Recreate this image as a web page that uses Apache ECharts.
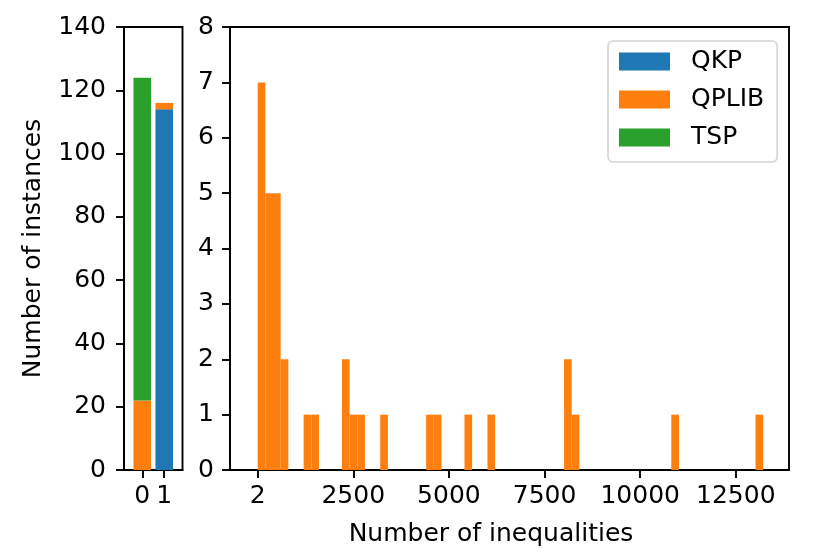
<!DOCTYPE html>
<html>
<head>
<meta charset="utf-8">
<script src="https://cdn.jsdelivr.net/npm/echarts@6/dist/echarts.min.js"></script>
<style>
html,body{margin:0;padding:0;background:#fff;}
#chart{width:830px;height:554px;}
</style>
</head>
<body>
<div id="chart"></div>
<script>
// ---- data ----
const groupPositions = [0, 1];
const qkpCounts = [0, 114];
const qplibCounts = [22, 2];
const tspCounts = [102, 0];

const binWidth = 200.2;
const binStarts = [2, 202, 402, 603, 1203, 1403, 2204, 2404, 2605, 3205, 4406, 4606, 5407, 6008, 8010, 8210, 10813, 13015];
const binCounts = [7, 5, 5, 2, 1, 1, 2, 1, 1, 1, 1, 1, 1, 1, 2, 1, 1, 1];

const leftXTicks = [0, 1];
const rightXTicks = [2, 2500, 5000, 7500, 10000, 12500];

const COLORS = { QKP: '#1f77b4', QPLIB: '#ff7f0e', TSP: '#2ca02c' };
const FONT = 'DejaVu Sans';
const FS = 25;
const LW = 1.9;

// build stacked rows [x, bottom, top]
const stackOrder = [['QKP', qkpCounts], ['QPLIB', qplibCounts], ['TSP', tspCounts]];
const base = groupPositions.map(() => 0);
const stackedData = {};
stackOrder.forEach(([name, arr]) => {
  stackedData[name] = groupPositions.map((x, i) => {
    const b = base[i];
    base[i] += arr[i];
    return [x, b, b + arr[i]];
  }).filter(r => r[2] > r[1]);
});

const histData = binStarts.map((s, i) => [s, s + binWidth, binCounts[i]]);

function stackRender(params, api) {
  const x = api.value(0), y0 = api.value(1), y1 = api.value(2);
  const p0 = api.coord([x - 0.4, y1]);
  const p1 = api.coord([x + 0.4, y0]);
  return { type: 'rect', shape: { x: p0[0], y: p0[1], width: p1[0] - p0[0], height: p1[1] - p0[1] },
    style: { fill: api.visual('color') } };
}
function histRender(params, api) {
  const x0 = api.value(0), x1 = api.value(1), y = api.value(2);
  const p0 = api.coord([x0, y]);
  const p1 = api.coord([x1, 0]);
  return { type: 'rect', shape: { x: p0[0], y: p0[1], width: p1[0] - p0[0], height: p1[1] - p0[1] },
    style: { fill: api.visual('color') } };
}

const axisCommon = {
  axisLine: { show: true, onZero: false, lineStyle: { color: '#000', width: LW } },
  axisTick: { show: true, length: 8, lineStyle: { color: '#000', width: LW } },
  splitLine: { show: false },
  axisLabel: { color: '#000', fontFamily: FONT, fontSize: FS }
};

const chart = echarts.init(document.getElementById('chart'), null, { renderer: 'canvas' });
chart.setOption({
  animation: false,
  backgroundColor: '#fff',
  textStyle: { fontFamily: FONT },
  grid: [
    { left: 124, top: 27, width: 58.5, height: 443, show: true, borderColor: '#000', borderWidth: LW, containLabel: false },
    { left: 230, top: 27, width: 559, height: 443, show: true, borderColor: '#000', borderWidth: LW, containLabel: false }
  ],
  xAxis: [
    Object.assign({}, axisCommon, {
      gridIndex: 0, type: 'value', min: -0.83, max: 1.83,
      axisTick: Object.assign({}, axisCommon.axisTick, { customValues: leftXTicks }),
      axisLabel: Object.assign({}, axisCommon.axisLabel, { customValues: leftXTicks, margin: 14, formatter: v => String(v) })
    }),
    Object.assign({}, axisCommon, {
      gridIndex: 1, type: 'value', min: -722, max: 13890,
      name: 'Number of inequalities', nameLocation: 'middle', nameGap: 52,
      nameTextStyle: { color: '#000', fontFamily: FONT, fontSize: FS, padding: [0, 37, 0, 0] },
      axisTick: Object.assign({}, axisCommon.axisTick, { customValues: rightXTicks }),
      axisLabel: Object.assign({}, axisCommon.axisLabel, { customValues: rightXTicks, margin: 14, formatter: v => String(v) })
    })
  ],
  yAxis: [
    Object.assign({}, axisCommon, {
      gridIndex: 0, type: 'value', min: 0, max: 140, interval: 20,
      name: 'Number of instances', nameLocation: 'middle', nameGap: 78, nameRotate: 90,
      nameTextStyle: { color: '#000', fontFamily: FONT, fontSize: FS },
      axisLabel: Object.assign({}, axisCommon.axisLabel, { margin: 18 })
    }),
    Object.assign({}, axisCommon, {
      gridIndex: 1, type: 'value', min: 0, max: 8, interval: 1,
      axisLabel: Object.assign({}, axisCommon.axisLabel, { margin: 16 })
    })
  ],
  legend: {
    orient: 'vertical', left: 608, top: 41,
    padding: [8, 13, 12, 11],
    itemWidth: 51, itemHeight: 18, itemGap: 13,
    icon: 'rect',
    backgroundColor: '#fff', borderColor: '#d4d4d4', borderWidth: 1.6, borderRadius: 5,
    textStyle: { color: '#000', fontFamily: FONT, fontSize: FS, padding: [0, 0, 0, 16] },
    data: ['QKP', 'QPLIB', 'TSP']
  },
  series: [
    { name: 'QKP', type: 'custom', xAxisIndex: 0, yAxisIndex: 0, renderItem: stackRender,
      itemStyle: { color: COLORS.QKP }, encode: { x: 0, y: [1, 2] }, data: stackedData.QKP },
    { name: 'QPLIB', type: 'custom', xAxisIndex: 0, yAxisIndex: 0, renderItem: stackRender,
      itemStyle: { color: COLORS.QPLIB }, encode: { x: 0, y: [1, 2] }, data: stackedData.QPLIB },
    { name: 'TSP', type: 'custom', xAxisIndex: 0, yAxisIndex: 0, renderItem: stackRender,
      itemStyle: { color: COLORS.TSP }, encode: { x: 0, y: [1, 2] }, data: stackedData.TSP },
    { name: 'QPLIB', type: 'custom', xAxisIndex: 1, yAxisIndex: 1, renderItem: histRender,
      itemStyle: { color: COLORS.QPLIB }, encode: { x: [0, 1], y: 2 }, data: histData }
  ]
});
</script>
</body>
</html>
